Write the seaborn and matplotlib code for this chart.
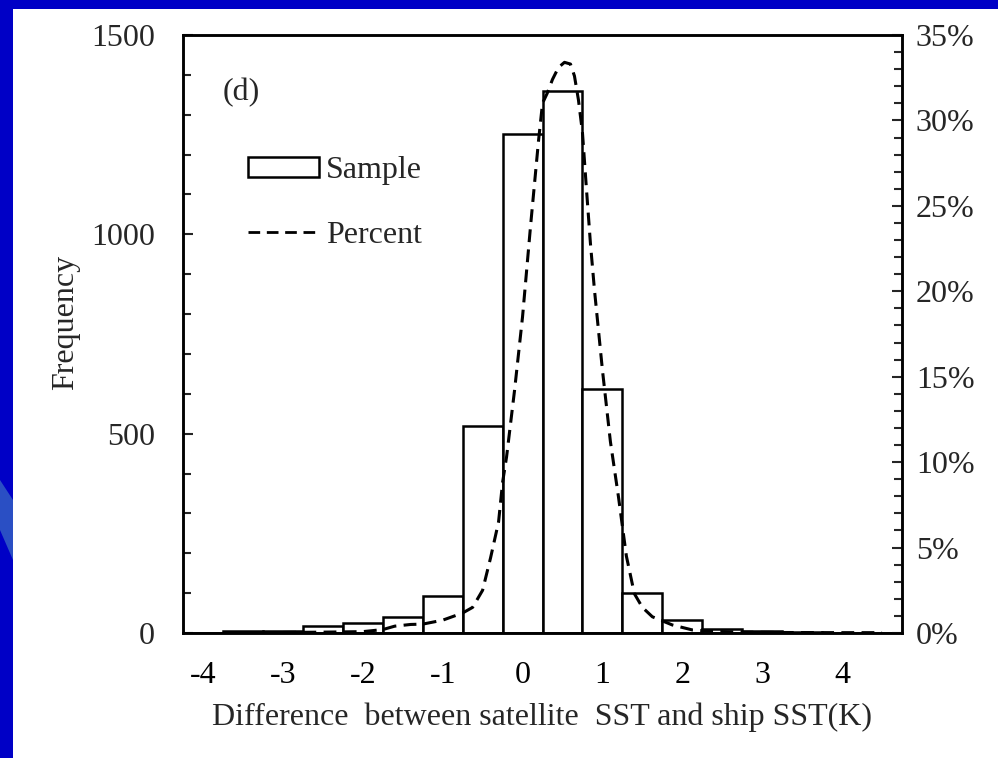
import numpy as np
import pandas as pd
import matplotlib
matplotlib.use("Agg")
import matplotlib.pyplot as plt
import seaborn as sns
from matplotlib.patches import Rectangle, Polygon, Patch
from matplotlib.lines import Line2D
from matplotlib.ticker import MultipleLocator, FuncFormatter, FixedLocator

# ---------------- data ----------------
bin_centers = [-4.0, -3.5, -3.0, -2.5, -2.0, -1.5, -1.0, -0.5, 0.0,
               0.5, 1.0, 1.5, 2.0, 2.5, 3.0, 3.5, 4.0, 4.5]
counts = [0, 4, 4, 18, 25, 40, 92, 519, 1252,
          1359, 612, 101, 33, 10, 6, 2, 1, 1]

curve_x = [-3.5, -3.0, -2.5, -2.0, -1.75, -1.6, -1.4, -1.25, -1.0, -0.75,
           -0.625, -0.5, -0.4, -0.3, -0.25, -0.2, -0.1, 0.0, 0.1, 0.2,
           0.25, 0.31, 0.375, 0.45, 0.525, 0.6, 0.65, 0.7, 0.75, 0.8,
           0.85, 0.9, 1.0, 1.1, 1.2, 1.3, 1.4, 1.5, 1.625, 1.875,
           2.125, 2.375, 2.75, 3.25, 4.0, 4.5]
curve_pct = [0.02, 0.03, 0.05, 0.08, 0.2, 0.4, 0.5, 0.52, 0.75, 1.17,
             1.5, 2.5, 4.4, 6.5, 8.8, 10.3, 14.2, 18.5, 23.8, 28.8,
             31.0, 31.6, 32.4, 33.1, 33.4, 33.3, 32.6, 31.2, 29.3, 26.0,
             22.8, 20.1, 15.4, 11.2, 8.0, 4.5, 2.3, 1.5, 0.95, 0.47,
             0.18, 0.1, 0.05, 0.03, 0.02, 0.02]

xtick_vals = [-4, -3, -2, -1, 0, 1, 2, 3, 4]
xtick_labels = ["-4", "-3", "-2", "-1", "0", "1", "2", "3", "4"]
ytick_left = [0, 500, 1000, 1500]
ytick_right = [0, 5, 10, 15, 20, 25, 30, 35]

x_label = "Difference  between satellite  SST and ship SST(K)"
y_label = "Frequency"
panel_tag = "(d)"
legend_labels = ["Sample", "Percent"]

# ---------------- style ----------------
sns.set_style("white")
plt.rcParams["font.family"] = ["Liberation Serif", "DejaVu Serif"]
FS = 23
DASH = (0, (4.2, 2.4))

W, H = 998, 758
fig = plt.figure(figsize=(W / 100, H / 100), dpi=100)
fig.patch.set_facecolor("#0000c6")
# white slide area
fig.patches.append(Rectangle((13 / W, 0), 1 - 13 / W, (H - 9) / H,
                             transform=fig.transFigure, facecolor="white",
                             edgecolor="none", zorder=-5))
# decorative streak at the left border
fig.patches.append(Polygon([(0, 1 - 480 / H), (13 / W, 1 - 500 / H),
                            (13 / W, 1 - 560 / H), (0, 1 - 530 / H)],
                           closed=True, transform=fig.transFigure,
                           facecolor="#2a4fc4", edgecolor="none", zorder=-5))

ax = fig.add_axes([183 / W, 1 - 633 / H, (902 - 183) / W, (633 - 35) / H])
ax.set_facecolor("white")

sns.barplot(x=bin_centers, y=counts, native_scale=True, orient="x",
            width=1.0, color="white", edgecolor="black", linewidth=1.8,
            errorbar=None, ax=ax, zorder=2)
for p in ax.patches:
    p.set_facecolor("white")
    p.set_edgecolor("black")

ax.set_xlim(-4.25, 4.75)
ax.set_ylim(0, 1500)
ax.xaxis.set_major_locator(FixedLocator(xtick_vals))
ax.set_xticklabels(xtick_labels)
ax.yaxis.set_major_locator(FixedLocator(ytick_left))
ax.yaxis.set_minor_locator(MultipleLocator(100))
ax.tick_params(axis="x", length=0, pad=20, labelsize=FS, colors="black")
ax.tick_params(axis="y", which="major", direction="in", length=7, width=1.5,
               pad=20, labelsize=FS)
ax.tick_params(axis="y", which="minor", direction="in", length=6, width=1.5)
ax.set_xlabel(x_label, fontsize=FS, labelpad=9)
ax.set_ylabel(y_label, fontsize=FS, labelpad=8)
ax.yaxis.label.set_y(0.52)
for s in ax.spines.values():
    s.set_visible(True)
    s.set_color("black")
    s.set_linewidth(1.8)

ax2 = ax.twinx()
sns.lineplot(x=curve_x, y=curve_pct, ax=ax2, color="black", linewidth=2.2,
             linestyle=DASH)
ax2.set_ylim(0, 35)
ax2.yaxis.set_major_locator(FixedLocator(ytick_right))
ax2.yaxis.set_minor_locator(MultipleLocator(1))
ax2.yaxis.set_major_formatter(FuncFormatter(lambda v, p: f"{v:.0f}%"))
ax2.tick_params(axis="y", which="major", direction="in", length=7, width=1.5,
                pad=10, labelsize=FS)
ax2.tick_params(axis="y", which="minor", direction="in", length=6, width=1.5)
ax2.set_ylabel("")
for s in ax2.spines.values():
    s.set_color("black")
    s.set_linewidth(1.8)

ax2.text(0.055, 0.903, panel_tag, transform=ax.transAxes, fontsize=FS,
         ha="left", va="center")

handles = [Patch(facecolor="white", edgecolor="black", linewidth=1.8),
           Line2D([0], [0], color="black", linewidth=2, linestyle=DASH)]
ax2.legend(handles, legend_labels, loc="upper left",
           bbox_to_anchor=(0.091, 0.797), frameon=False, fontsize=FS,
           handlelength=2.2, handletextpad=0.22, labelspacing=1.1,
           borderpad=0, borderaxespad=0, handleheight=0.6)

fig.savefig("out.png", dpi=100, facecolor=fig.get_facecolor())
